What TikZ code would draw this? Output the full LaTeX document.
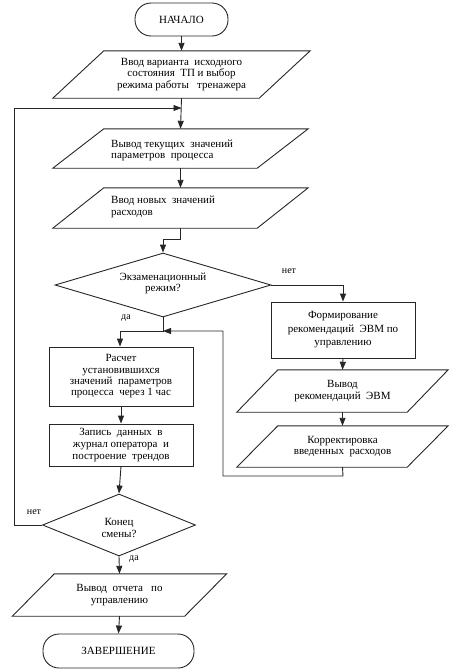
\documentclass[tikz,border=0pt]{standalone}
\usepackage{fontspec}
\setmainfont{Liberation Serif}
\newfontfamily\tms{Liberation Serif}
\usetikzlibrary{arrows.meta,shapes.geometric}
\tikzset{
  line/.style={line width=0.9pt, draw=black!85},
  arr/.style={line, -{Triangle[width=6pt,length=8pt]}},
  term/.style={line, rectangle, rounded corners=16pt, align=center, inner sep=0pt},
  proc/.style={line, rectangle, align=center, inner sep=0pt},
  dec/.style={line, diamond, align=center, inner sep=0pt},
  iohold/.style={rectangle, draw=none, inner sep=0pt, align=center},
  lbl/.style={inner sep=0pt, font=\tms\fontsize{10}{12}\selectfont},
}
\newcommand\ioshape[7]{% name, x, y, w, h, slant, text
  \node[iohold, minimum width=#4pt, minimum height=#5pt] (#1) at (#2,#3) {#7};
  \draw[line] ([xshift=#6pt/2]#1.north west) -- ([xshift=#6pt/2]#1.north east)
    -- ([xshift=-#6pt/2]#1.south east) -- ([xshift=-#6pt/2]#1.south west) -- cycle;
}
\begin{document}
\begin{tikzpicture}[x=1pt,y=-1pt, font=\tms\fontsize{11}{11.6}\selectfont]
\useasboundingbox (0,0) rectangle (462,672);

\node[term, minimum width=93pt, minimum height=33pt] (start) at (181.5,19.5) {НАЧАЛО};
\ioshape{b1}{181.5}{74.5}{206}{47}{51}{Ввод варианта \ исходного\\состояния \ ТП и выбор\\режима работы \ \ тренажера}
\ioshape{b2}{180.5}{148.5}{204}{39}{51}{}
\node[anchor=west, align=left, inner sep=0pt] (t2) at (111,150.5) {Вывод текущих \ значений\\параметров \ процесса};
\ioshape{b3}{180.5}{208}{204}{40}{51}{}
\node[anchor=west, align=left, inner sep=0pt] (t3) at (111,207) {Ввод новых \ значений\\расходов};

\node[dec, minimum width=216pt, minimum height=64pt] (d1) at (163,285) {};
\node[align=center, inner sep=0pt] (t4) at (163,283.5) {Экзаменационный\\режим?};

\node[proc, minimum width=144pt, minimum height=56pt, font=\tms\fontsize{11}{13.5}\selectfont] (r1) at (343,330) {Формирование\\рекомендаций \ ЭВМ по\\управлению};
\ioshape{r2}{342.5}{391}{170}{42}{41}{Вывод\\рекомендаций \ ЭВМ}
\ioshape{r3}{342.5}{446.5}{170}{41}{41}{Корректировка\\введенных \ расходов}

\node[proc, minimum width=144pt, minimum height=59pt, font=\tms\fontsize{11}{11.3}\selectfont] (l1) at (121,376.5) {Расчет\\установившихся\\значений \ параметров\\процесса \ через 1 час};
\node[proc, minimum width=144pt, minimum height=42pt] (l2) at (121,445) {Запись \ данных \ в\\журнал оператора \ и\\построение \ трендов};

\node[dec, minimum width=153pt, minimum height=62pt] (d2) at (119,525) {};
\node[align=center, inner sep=0pt] (t5) at (119,528) {Конец\\смены?};

\ioshape{b4}{119.5}{595}{172}{42}{42}{Вывод \ отчета \ \ по\\управлению}
\node[term, minimum width=151pt, minimum height=34pt] (end) at (118.5,651) {ЗАВЕРШЕНИЕ};

\coordinate (j1) at (163,331);
\coordinate (j0) at (181.5,108);

\draw[arr] (start.south) -- (b1.north);
\draw[arr] (b1.south) -- (b2.north);
\draw[arr] (b2.south) -- (b3.north);
\draw[arr] (b3.south) -- (180.5,239) -| (d1.north);
\draw[arr] (d1.east) -| (r1.north);
\draw[arr] (d1.south) -- (j1) -| ([xshift=-1pt]l1.north);
\draw[arr] (r1.south) -- (r2.north);
\draw[arr] (r2.south) -- (r3.north);
\draw[arr] (r3.south) -- (343,476) -| (223,331) -- (j1);
\draw[arr] (l1.south) -- (l2.north);
\draw[arr] (l2.south) -- (d2.north);
\draw[arr] (d2.west) -- (14,525) |- (j0);
\draw[arr] (d2.south) -- (b4.north);
\draw[arr] (b4.south) -- (end.north);

\node[lbl] (n1) at (289,271) {нет};
\node[lbl] (y1) at (126,318) {да};
\node[lbl] (n2) at (34,512) {нет};
\node[lbl] (y2) at (134,559) {да};
\end{tikzpicture}
\end{document}
